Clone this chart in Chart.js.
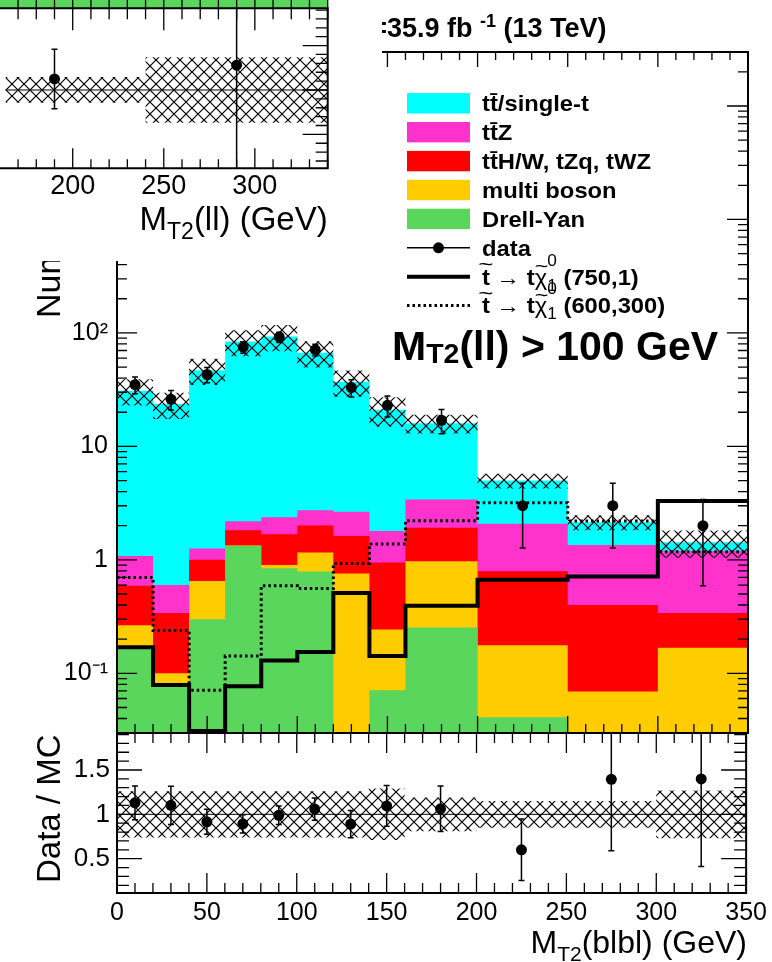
<!DOCTYPE html>
<html>
<head>
<meta charset="utf-8">
<script src="https://cdn.jsdelivr.net/npm/chart.js@4.4.1/dist/chart.umd.min.js"></script>
<style>
  html, body { margin: 0; padding: 0; background: #fff; }
  #wrap { position: relative; width: 772px; height: 962px; overflow: hidden; background: #fff; }
  canvas { position: absolute; left: 0; top: 0; }
  #inset { background: #fff; }
</style>
</head>
<body>
<div id="wrap">
  <canvas id="main" width="772" height="962" style="width:772px;height:962px"></canvas>
  <canvas id="ratio" width="772" height="962" style="width:772px;height:962px"></canvas>
  <canvas id="inset" width="382" height="261" style="width:382px;height:261px"></canvas>
</div>
<script>
// ---- M_T2(blbl) binning and yields (events per bin) ----
const binEdges   = [0, 20, 40, 60, 80, 100, 120, 140, 160, 200, 250, 300, 350];
const drellYan   = [0.174, 0.082, 0.30, 1.33, 0.845, 0.79, 0, 0.071, 0.253, 0.041, 0, 0];
const multiBoson = [0.091, 0.018, 0.35, 0.01, 0.055, 0.37, 0.76, 0.172, 0.717, 0.136, 0.069, 0.168];
const ttHWtZq    = [0.325, 0.24, 0.35, 0.48, 0.78, 0.85, 0.86, 0.707, 0.95, 0.618, 0.331, 0.172];
const ttZ        = [0.49, 0.26, 0.26, 0.37, 0.69, 0.73, 1.03, 0.85, 1.48, 1.285, 0.95, 0.86];
const ttSingleT  = [29.9, 23.0, 45.7, 81.8, 90.6, 64.3, 34.4, 19.2, 12.6, 2.92, 0.80, 0.23];
const observed   = [35, 26, 43, 75, 92, 71, 33, 23, 17, 3, 3, 2];
const observedErr= [5.9, 5.1, 6.6, 8.7, 9.6, 8.4, 5.7, 4.8, 4.1, 1.73, 1.73, 1.41];
const mcRelUnc   = [0.26, 0.26, 0.26, 0.26, 0.26, 0.26, 0.26, 0.29, 0.19, 0.15, 0.15, 0.27];
const stop750_1  = [0.17, 0.079, 0.031, 0.077, 0.13, 0.154, 0.51, 0.142, 0.395, 0.667, 0.715, 3.31];
const stop600_300= [0.70, 0.238, 0.071, 0.142, 0.59, 0.56, 0.93, 1.38, 2.21, 3.18, 2.2, 1.18];

// ---- tick labels ----
const mainYTicks  = [0.1, 1, 10, 100, 1000, 10000];
const ratioYTicks = [0.5, 1, 1.5];
const massXTicks  = [0, 50, 100, 150, 200, 250, 300, 350];
const insetXTicks = [200, 250, 300];

// ---- M_T2(ll) ratio panel (upper figure) ----
const insetEdges  = [140, 240, 340];
const insetRatio  = [1.124, 1.28];
const insetErr    = [0.335, 1.28];
const insetRelUnc = [0.145, 0.37];

const cCyan = '#00ffff', cPink = '#ff33cc', cRed = '#ff0000', cOrange = '#ffcc00', cGreen = '#59d65b';
const FONT = '"Liberation Sans", Arial, sans-serif';
const B = s => `bold ${s}px ${FONT}`;
const R = s => `${s}px ${FONT}`;

const centers = binEdges.slice(0, -1).map((e, i) => (e + binEdges[i + 1]) / 2);
const mcTotal = centers.map((_, i) => drellYan[i] + multiBoson[i] + ttHWtZq[i] + ttZ[i] + ttSingleT[i]);

function stepPoints(edges, vals, floor) {
  const f = floor || -Infinity;
  const pts = vals.map((v, i) => ({ x: edges[i], y: Math.max(v, f) }));
  pts.push({ x: edges[edges.length - 1], y: Math.max(vals[vals.length - 1], f) });
  return pts;
}

// cross-hatch fill for the uncertainty bands
function makeHatch() {
  const s = 12, c = document.createElement('canvas');
  c.width = s; c.height = s;
  const g = c.getContext('2d');
  g.strokeStyle = '#000'; g.lineWidth = 1.2;
  g.beginPath();
  g.moveTo(-1, -1); g.lineTo(s + 1, s + 1);
  g.moveTo(s + 1, -1); g.lineTo(-1, s + 1);
  g.stroke();
  return g.createPattern(c, 'repeat');
}
const hatch = makeHatch();

function linTicks(min, max, step, every) {
  const out = [];
  for (let k = Math.ceil(min / step - 1e-9); k * step <= max + 1e-9; k++) {
    const v = k * step;
    out.push({ v, major: Math.abs(v / every - Math.round(v / every)) < 1e-6 });
  }
  return out;
}
function logTicks(min, max) {
  const out = [];
  for (let d = Math.floor(Math.log10(min)); d <= Math.ceil(Math.log10(max)); d++)
    for (let m = 1; m <= 9; m++) {
      const v = m * Math.pow(10, d);
      if (v >= min && v <= max) out.push({ v, major: m === 1 });
    }
  return out;
}

// draws a row of text pieces (sizes / offsets per piece); optional accent over a piece
function drawParts(ctx, x, y, parts, opts) {
  opts = opts || {};
  const sx = opts.sx || 1;
  ctx.textAlign = 'left'; ctx.textBaseline = 'alphabetic';
  const widths = parts.map(p => {
    ctx.font = p.f;
    const w = p.sub !== undefined
      ? Math.max(ctx.measureText(p.sub).width, ctx.measureText(p.sup).width)
      : ctx.measureText(p.t).width;
    return w * sx + (p.gap || 0);
  });
  const total = widths.reduce((a, b) => a + b, 0);
  let cx = opts.align === 'right' ? x - total : x;
  parts.forEach((p, i) => {
    ctx.font = p.f;
    const put = (txt, dy) => { ctx.save(); ctx.translate(cx, y + dy); ctx.scale(sx, 1); ctx.fillText(txt, 0, 0); ctx.restore(); };
    if (p.sub !== undefined) { put(p.sup, p.supDy); put(p.sub, p.subDy); }
    else put(p.t, p.dy || 0);
    if (p.accent) {
      ctx.save();
      ctx.font = p.accentFont;
      ctx.textAlign = 'center';
      ctx.translate(cx + widths[i] / 2 + (p.accentDx || 0), y + p.accentDy);
      ctx.scale(1.3, 1);
      ctx.fillText(p.accent, 0, 0);
      ctx.restore();
    }
    cx += widths[i];
  });
  return total;
}

function rotatedText(ctx, x, y, text, font) {
  ctx.save();
  ctx.translate(x, y); ctx.rotate(-Math.PI / 2);
  ctx.font = font; ctx.fillStyle = '#000';
  ctx.textAlign = 'left'; ctx.textBaseline = 'alphabetic';
  ctx.fillText(text, 0, 0);
  ctx.restore();
}

// ROOT-style frame with inward ticks on every side
function framePlugin(o) {
  return {
    id: 'frame',
    afterDraw(chart) {
      const { ctx, chartArea: a } = chart;
      const xs = chart.scales.x, ys = chart.scales.y;
      ctx.save();
      if (o.before) o.before(ctx, a);
      ctx.strokeStyle = '#000'; ctx.lineWidth = 1.3;
      ctx.beginPath();
      o.xTicks(xs).forEach(t => {
        const px = xs.getPixelForValue(t.v);
        const b = t.major ? o.bottom[0] : o.bottom[1];
        const tp = t.major ? o.top[0] : o.top[1];
        if (b) { ctx.moveTo(px, a.bottom); ctx.lineTo(px, a.bottom - b); }
        if (tp) { ctx.moveTo(px, a.top - (o.topOut || 0)); ctx.lineTo(px, a.top + tp); }
      });
      o.yTicks(ys).forEach(t => {
        const py = ys.getPixelForValue(t.v);
        const l = t.major ? o.left[0] : o.left[1];
        const r = t.major ? o.right[0] : o.right[1];
        if (l) { ctx.moveTo(a.left, py); ctx.lineTo(a.left + l, py); }
        if (r) { ctx.moveTo(a.right, py); ctx.lineTo(a.right - r, py); }
      });
      ctx.stroke();
      ctx.lineWidth = 2;
      ctx.beginPath();
      ctx.moveTo(o.noLeft ? 0 : a.left, a.top); ctx.lineTo(a.right, a.top);
      ctx.lineTo(a.right, a.bottom); ctx.lineTo(o.noLeft ? 0 : a.left, a.bottom);
      if (!o.noLeft) ctx.closePath();
      ctx.stroke();
      ctx.fillStyle = '#000';
      if (o.after) o.after(ctx, a);
      ctx.restore();
    }
  };
}

// vertical error bars with short end caps
function errorBarPlugin(xv, yv, ev) {
  return {
    id: 'errbars',
    afterDatasetsDraw(chart) {
      const { ctx, chartArea: a } = chart;
      const xs = chart.scales.x, ys = chart.scales.y;
      ctx.save();
      ctx.beginPath(); ctx.rect(a.left, a.top - 1, a.right - a.left, a.bottom - a.top + 2); ctx.clip();
      ctx.strokeStyle = '#000'; ctx.lineWidth = 1.5;
      ctx.beginPath();
      xv.forEach((x, i) => {
        const lo = Math.max(yv[i] - ev[i], ys.min), hi = Math.min(yv[i] + ev[i], ys.max);
        const px = xs.getPixelForValue(x);
        const p1 = ys.getPixelForValue(lo), p2 = ys.getPixelForValue(hi);
        ctx.moveTo(px, p1); ctx.lineTo(px, p2);
        if (yv[i] - ev[i] > ys.min) { ctx.moveTo(px - 3, p1); ctx.lineTo(px + 3, p1); }
        if (yv[i] + ev[i] < ys.max) { ctx.moveTo(px - 3, p2); ctx.lineTo(px + 3, p2); }
      });
      ctx.stroke();
      ctx.restore();
    }
  };
}

const lineBase = { pointRadius: 0, borderWidth: 0, stepped: 'before', tension: 0 };
const pointSet = pts => ({ data: pts, showLine: false, pointRadius: 5.5, pointHoverRadius: 5.5,
  pointBackgroundColor: '#000', pointBorderWidth: 0, order: 0 });

// ---------------- main panel ----------------
const stackDef = [
  { label: 'Drell-Yan', vals: drellYan, color: cGreen },
  { label: 'multi boson', vals: multiBoson, color: cOrange },
  { label: 'tt\u0304H/W, tZq, tWZ', vals: ttHWtZq, color: cRed },
  { label: 'tt\u0304Z', vals: ttZ, color: cPink },
  { label: 'tt\u0304/single-t', vals: ttSingleT, color: cCyan }
];
let running = centers.map(() => 0);
const stackSets = stackDef.map((s, k) => {
  running = running.map((r, i) => r + s.vals[i]);
  return Object.assign({}, lineBase, { label: s.label, data: stepPoints(binEdges, running, 1e-4),
    backgroundColor: s.color, fill: 'start', order: 10 + k });
});
const mainSets = stackSets.concat([
  Object.assign({}, lineBase, { label: 'unc up', data: stepPoints(binEdges, mcTotal.map((t, i) => t * (1 + mcRelUnc[i]))),
    backgroundColor: hatch, fill: '+1', order: 5 }),
  Object.assign({}, lineBase, { label: 'unc down', data: stepPoints(binEdges, mcTotal.map((t, i) => t * (1 - mcRelUnc[i]))),
    fill: false, order: 5 }),
  Object.assign({}, lineBase, { label: 'stop 600,300', data: stepPoints(binEdges, stop600_300),
    borderColor: '#000', borderWidth: 3, borderDash: [2.5, 3], fill: false, order: 3 }),
  Object.assign({}, lineBase, { label: 'stop 750,1', data: stepPoints(binEdges, stop750_1),
    borderColor: '#000', borderWidth: 4, fill: false, order: 2 }),
  Object.assign(pointSet(centers.map((x, i) => ({ x, y: observed[i] }))), { label: 'data' })
]);

function decadeLabel(v) {
  const e = Math.round(Math.log10(v));
  if (e === 0) return '1';
  if (e === 1) return '10';
  const sup = { '-': '\u207b', '1': '\u00b9', '2': '\u00b2', '3': '\u00b3', '4': '\u2074' };
  return '10' + String(e).split('').map(c => sup[c]).join('');
}

const tildeT  = { t: 't', f: B(22), accent: '~', accentFont: R(20), accentDy: -13.5 };
const tildeChi = { t: '\u03c7', f: R(22), accent: '~', accentFont: R(18), accentDy: -12.5, accentDx: 0.5 };
const legendRows = [
  { kind: 'box', color: cCyan, parts: [{ t: 'tt\u0304/single-t', f: B(22) }] },
  { kind: 'box', color: cPink, parts: [{ t: 'tt\u0304Z', f: B(22) }] },
  { kind: 'box', color: cRed, parts: [{ t: 'tt\u0304H/W, tZq, tWZ', f: B(22) }] },
  { kind: 'box', color: cOrange, parts: [{ t: 'multi boson', f: B(22) }] },
  { kind: 'box', color: cGreen, parts: [{ t: 'Drell-Yan', f: B(22) }] },
  { kind: 'data', parts: [{ t: 'data', f: B(22) }] },
  { kind: 'solid', parts: [tildeT, { t: ' \u2192 ', f: R(22) }, { t: 't', f: B(22) }, tildeChi,
      { sub: '1', sup: '0', f: R(16), subDy: 6, supDy: -19 }, { t: ' (750,1)', f: B(22) }] },
  { kind: 'dotted', parts: [tildeT, { t: ' \u2192 ', f: R(22) }, { t: 't', f: B(22) }, tildeChi,
      { sub: '1', sup: '0', f: R(16), subDy: 6, supDy: -19 }, { t: ' (600,300)', f: B(22) }] }
];

function drawLegend(ctx) {
  const x0 = 407, x1 = 470, tx = 482;
  legendRows.forEach((row, i) => {
    const cy = 103.3 + 28.9 * i;
    ctx.save();
    if (row.kind === 'box') {
      ctx.fillStyle = row.color; ctx.fillRect(x0, cy - 10.2, x1 - x0, 20.4);
    } else if (row.kind === 'data') {
      ctx.strokeStyle = '#000'; ctx.lineWidth = 1.5;
      ctx.beginPath(); ctx.moveTo(x0, cy); ctx.lineTo(x1, cy); ctx.stroke();
      ctx.fillStyle = '#000'; ctx.beginPath(); ctx.arc((x0 + x1) / 2, cy, 5.5, 0, Math.PI * 2); ctx.fill();
    } else {
      ctx.strokeStyle = '#000';
      ctx.lineWidth = row.kind === 'solid' ? 4 : 3;
      if (row.kind === 'dotted') ctx.setLineDash([2.5, 3]);
      ctx.beginPath(); ctx.moveTo(x0, cy); ctx.lineTo(x1, cy); ctx.stroke();
    }
    ctx.restore();
    ctx.fillStyle = '#000';
    drawParts(ctx, tx, cy + 7.8, row.parts, { sx: 1.08 });
  });
}

const yMin = 0.0298, yMax = 29900;

new Chart(document.getElementById('main'), {
  type: 'line',
  data: { datasets: mainSets },
  options: {
    responsive: false, animation: false, events: [],
    layout: { padding: { left: 0, right: 24, top: 52, bottom: 229 } },
    plugins: { legend: { display: false }, tooltip: { enabled: false } },
    scales: {
      x: { type: 'linear', min: 0, max: 350, display: false },
      y: {
        type: 'logarithmic', min: yMin, max: yMax,
        afterFit: s => { s.width = 117; },
        afterBuildTicks: s => { s.ticks = mainYTicks.map(v => ({ value: v })); },
        grid: { display: false, drawTicks: false }, border: { display: false },
        ticks: { color: '#000', font: { family: FONT, size: 25 }, padding: 9, autoSkip: false,
                 callback: v => decadeLabel(v) }
      }
    }
  },
  plugins: [
    errorBarPlugin(centers, observed, observedErr),
    framePlugin({
      xTicks: xs => linTicks(xs.min, xs.max, 10, 50),
      yTicks: ys => logTicks(ys.min, ys.max),
      bottom: [17, 9], top: [15, 8], left: [20, 10], right: [21, 10],
      after: (ctx) => {
        drawLegend(ctx);
        ctx.fillStyle = '#000';
        drawParts(ctx, 392, 360, [{ t: 'M', f: B(41) }, { t: 'T2', f: B(28.5), dy: 3 }, { t: '(ll) > 100 GeV', f: B(41) }]);
        ctx.font = B(27);
        const lx = 387 - ctx.measureText('L=').width;
        drawParts(ctx, lx, 37, [{ t: 'L=35.9 fb ', f: B(27) }, { t: '-1', f: B(18), dy: -10 }, { t: ' (13 TeV)', f: B(27) }]);
        rotatedText(ctx, 60, 318, 'Number of events', R(34));
      }
    })
  ]
});

// ---------------- ratio panel ----------------
const ratioVals = observed.map((d, i) => d / mcTotal[i]);
const ratioErrs = observedErr.map((e, i) => e / mcTotal[i]);

new Chart(document.getElementById('ratio'), {
  type: 'line',
  data: { datasets: [
    Object.assign({}, lineBase, { label: 'band up', data: stepPoints(binEdges, mcRelUnc.map(u => 1 + u)),
      backgroundColor: hatch, fill: '+1', order: 5 }),
    Object.assign({}, lineBase, { label: 'band down', data: stepPoints(binEdges, mcRelUnc.map(u => 1 - u)), fill: false, order: 5 }),
    { label: 'unity', data: [{ x: 0, y: 1 }, { x: 350, y: 1 }], borderColor: '#000', borderWidth: 1, pointRadius: 0, fill: false, order: 4 },
    Object.assign(pointSet(centers.map((x, i) => ({ x, y: ratioVals[i] }))), { label: 'ratio' })
  ] },
  options: {
    responsive: false, animation: false, events: [],
    layout: { padding: { left: 0, right: 24, top: 733, bottom: 29 } },
    plugins: { legend: { display: false }, tooltip: { enabled: false } },
    scales: {
      x: {
        type: 'linear', min: 0, max: 350,
        afterFit: s => { s.height = 40; },
        afterBuildTicks: s => { s.ticks = massXTicks.map(v => ({ value: v })); },
        grid: { display: false, drawTicks: false }, border: { display: false },
        ticks: { color: '#000', font: { family: FONT, size: 25 }, padding: 5, autoSkip: false, maxRotation: 0,
                 callback: v => String(v) }
      },
      y: {
        type: 'linear', min: 0.113, max: 1.917,
        afterFit: s => { s.width = 117; },
        afterBuildTicks: s => { s.ticks = ratioYTicks.map(v => ({ value: v })); },
        grid: { display: false, drawTicks: false }, border: { display: false },
        ticks: { color: '#000', font: { family: FONT, size: 26 }, padding: 7, autoSkip: false,
                 callback: v => String(v) }
      }
    }
  },
  plugins: [
    errorBarPlugin(centers, ratioVals, ratioErrs),
    framePlugin({
      xTicks: xs => linTicks(xs.min, xs.max, 10, 50),
      yTicks: ys => linTicks(ys.min, ys.max, 0.1, 0.5),
      bottom: [20, 10], top: [20, 10], left: [25, 12], right: [25, 12],
      after: (ctx) => {
        rotatedText(ctx, 60, 883, 'Data / MC', R(33));
        drawParts(ctx, 747, 953, [{ t: 'M', f: R(32) }, { t: 'T2', f: R(21), dy: 8 }, { t: '(blbl) (GeV)', f: R(32) }], { align: 'right' });
      }
    })
  ]
});

// ---------------- M_T2(ll) ratio panel, upper figure ----------------
const insetCenters = insetEdges.slice(0, -1).map((e, i) => (e + insetEdges[i + 1]) / 2);

new Chart(document.getElementById('inset'), {
  type: 'line',
  data: { datasets: [
    Object.assign({}, lineBase, { label: 'band up', data: stepPoints(insetEdges, insetRelUnc.map(u => 1 + u)),
      backgroundColor: hatch, fill: '+1', order: 5 }),
    Object.assign({}, lineBase, { label: 'band down', data: stepPoints(insetEdges, insetRelUnc.map(u => 1 - u)), fill: false, order: 5 }),
    { label: 'unity', data: [{ x: insetEdges[0], y: 1 }, { x: insetEdges[insetEdges.length - 1], y: 1 }],
      borderColor: '#000', borderWidth: 1, pointRadius: 0, fill: false, order: 4 },
    Object.assign(pointSet(insetCenters.map((x, i) => ({ x, y: insetRatio[i] }))), { label: 'ratio' })
  ] },
  options: {
    responsive: false, animation: false, events: [],
    layout: { padding: { left: 0, right: 54.3, top: 8.3, bottom: 52.7 } },
    plugins: { legend: { display: false }, tooltip: { enabled: false } },
    scales: {
      x: {
        type: 'linear', min: 163.1, max: 340,
        afterFit: s => { s.height = 40; },
        afterBuildTicks: s => { s.ticks = insetXTicks.map(v => ({ value: v })); },
        grid: { display: false, drawTicks: false }, border: { display: false },
        ticks: { color: '#000', font: { family: FONT, size: 27 }, padding: 2, autoSkip: false, maxRotation: 0,
                 callback: v => String(v) }
      },
      y: { type: 'linear', min: 0.118, max: 1.92, display: false }
    }
  },
  plugins: [
    errorBarPlugin(insetCenters, insetRatio, insetErr),
    framePlugin({
      noLeft: true, topOut: 8.3,
      before: (ctx, a) => { ctx.fillStyle = cGreen; ctx.fillRect(0, 0, a.right, a.top); },
      xTicks: xs => linTicks(xs.min, xs.max, 10, 50),
      yTicks: ys => linTicks(ys.min, ys.max, 0.1, 0.5),
      bottom: [20, 9], top: [22, 11], left: [0, 0], right: [25, 12],
      after: (ctx, a) => {
        drawParts(ctx, a.right, 230, [{ t: 'M', f: R(33) }, { t: 'T2', f: R(23), dy: 9 }, { t: '(ll) (GeV)', f: R(33) }], { align: 'right' });
      }
    })
  ]
});
</script>
</body>
</html>
